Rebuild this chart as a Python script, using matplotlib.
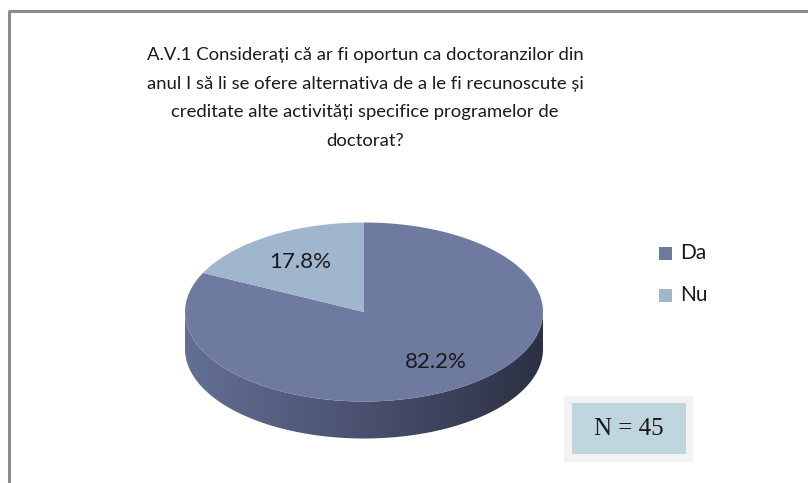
import numpy as np
import matplotlib
matplotlib.use("Agg")
import matplotlib.pyplot as plt
from matplotlib.patches import Polygon, Rectangle

# Chart data
labels = ["Da", "Nu"]
shares = [82.2, 17.8]
colors = ["#6F7AA0", "#A0B6CC"]
title = ("A.V.1 Considerați că ar fi oportun ca doctoranzilor din\n"
         "anul I să li se ofere alternativa de a le fi recunoscute și\n"
         "creditate alte activități specifice programelor de\n"
         "doctorat?")
n_text = "N = 45"

plt.rcParams["font.family"] = ["Lato", "DejaVu Sans"]

W, H = 808, 483
fig = plt.figure(figsize=(W / 100, H / 100), dpi=100)
ax = fig.add_axes([0, 0, 1, 1])
ax.set_xlim(0, W)
ax.set_ylim(H, 0)
ax.axis("off")

# outer chart frame (runs off the right and bottom edges)
ax.plot([8.5, 8.5, W + 5], [H + 5, 10.5, 10.5], color="#8C8C8C", lw=2.2,
        solid_capstyle="butt")

ax.text(365, 98, title, ha="center", va="center", fontsize=13.3,
        linespacing=1.95, color="#1A1A1A")

# 3D pie geometry (pixel space)
cx, cy, rx, ry, depth = 364, 312, 179, 89.5, 37


def ell(theta):
    return cx + rx * np.cos(theta), cy - ry * np.sin(theta)


# side wall: front half of the ellipse, shaded from left to right
t = np.linspace(np.pi, 2 * np.pi, 200)
ex, ey = ell(t)
side_x = np.concatenate([ex, ex[::-1]])
side_y = np.concatenate([ey, ey[::-1] + depth])
side = Polygon(np.column_stack([side_x, side_y]), closed=True,
               facecolor="none", edgecolor="none")
ax.add_patch(side)
grad = np.linspace(0, 1, 256)[None, :]
cmap = matplotlib.colors.LinearSegmentedColormap.from_list(
    "side", ["#646F95", "#4A516F", "#2C3043"])
im = ax.imshow(grad, cmap=cmap, extent=[cx - rx, cx + rx, cy + ry + depth + 2, cy - 2],
               aspect="auto", zorder=2)
im.set_clip_path(side)

# top face wedges: Da clockwise from 12 o'clock, Nu the rest
start = np.pi / 2
angles = []
for s in shares:
    end = start - 2 * np.pi * s / 100
    angles.append((start, end))
    start = end

for (a0, a1), c in zip(angles, colors):
    tt = np.linspace(a0, a1, 200)
    px, py = ell(tt)
    pts = np.column_stack([np.r_[cx, px], np.r_[cy, py]])
    ax.add_patch(Polygon(pts, closed=True, facecolor=c, edgecolor="none", zorder=3))

# data labels
label_pos = [(436, 362), (300, 262)]
for (x, y), s in zip(label_pos, shares):
    ax.text(x, y, f"{s:.1f}%", ha="center", va="center", fontsize=16,
            color="#1A1A1A", zorder=4)

# legend
leg_y = [253, 295]
for lab, c, y in zip(labels, colors, leg_y):
    ax.add_patch(Rectangle((659, y - 6.5), 13, 13, facecolor=c, edgecolor="none"))
    ax.text(680, y, lab, ha="left", va="center", fontsize=15, color="#1A1A1A")

# N box
ax.add_patch(Rectangle((564, 396), 129, 66, facecolor="#F2F2F2", edgecolor="none"))
ax.add_patch(Rectangle((572, 403), 114, 51, facecolor="#C0D6DE", edgecolor="none"))
ax.text(629, 429, n_text, ha="center", va="center", fontsize=18,
        family="Liberation Serif", color="#1A1A1A")

fig.savefig("out.png", dpi=100)
